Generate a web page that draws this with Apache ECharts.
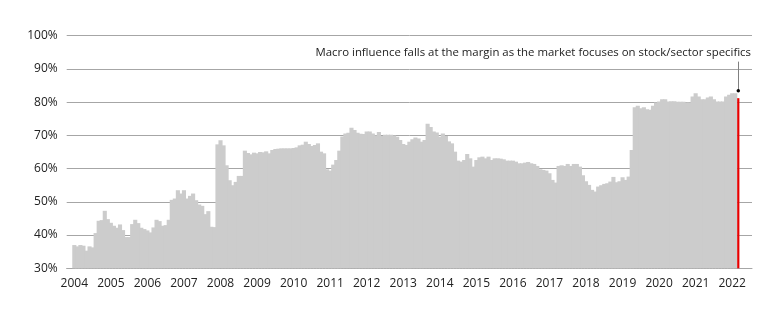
<!DOCTYPE html>
<html>
<head>
<meta charset="utf-8">
<script src="https://cdn.jsdelivr.net/npm/echarts@6/dist/echarts.min.js"></script>
<style>
  html, body { margin: 0; padding: 0; background: #ffffff; }
  #chart { width: 780px; height: 323px; }
</style>
</head>
<body>
<div id="chart"></div>
<script>
// Monthly share (%), January 2004 onward
const share2004 = [37.0, 36.6, 37.0, 36.8, 35.3, 36.6, 36.3, 40.6, 44.3, 44.5, 47.3, 44.8];
const share2005 = [43.7, 42.8, 42.2, 43.2, 41.5, 39.4, 39.4, 43.3, 44.6, 43.6, 42.2, 41.8];
const share2006 = [41.4, 40.8, 42.3, 44.6, 44.2, 42.8, 43.0, 44.6, 50.6, 51.0, 53.5, 52.5];
const share2007 = [53.5, 51.0, 51.8, 52.5, 50.5, 49.2, 48.8, 46.3, 47.2, 42.5, 42.4, 67.3];
const share2008 = [68.5, 67.0, 61.0, 56.5, 55.0, 56.0, 57.8, 57.8, 65.4, 64.7, 64.3, 64.8];
const share2009 = [64.6, 65.0, 64.9, 65.2, 64.6, 65.6, 65.9, 66.0, 66.1, 66.1, 66.1, 66.1];
const share2010 = [66.2, 66.4, 67.0, 67.2, 68.1, 67.4, 66.8, 67.1, 67.6, 65.1, 64.6, 59.8];
const share2011 = [59.4, 61.2, 62.6, 65.4, 69.7, 70.6, 70.8, 72.3, 71.6, 70.8, 70.5, 70.4];
const share2012 = [71.2, 71.2, 70.6, 70.0, 71.0, 69.8, 70.2, 70.2, 70.2, 70.0, 69.6, 68.6];
const share2013 = [67.4, 67.1, 68.1, 68.8, 69.4, 69.1, 68.1, 68.6, 73.5, 72.5, 71.2, 70.9];
const share2014 = [69.6, 70.6, 69.8, 68.2, 67.6, 65.1, 62.4, 62.1, 62.6, 64.4, 63.1, 60.6];
const share2015 = [62.6, 63.4, 63.6, 63.1, 63.6, 62.6, 63.1, 63.1, 63.0, 62.8, 62.4, 62.4];
const share2016 = [62.4, 62.1, 61.6, 61.6, 61.8, 62.0, 61.6, 61.4, 60.8, 59.8, 59.6, 59.4];
const share2017 = [58.6, 56.6, 55.8, 60.8, 61.0, 60.8, 61.4, 60.8, 61.4, 61.4, 60.6, 58.0];
const share2018 = [56.2, 55.1, 53.6, 53.1, 54.6, 55.0, 55.4, 55.6, 56.1, 57.5, 55.9, 56.2];
const share2019 = [57.4, 56.6, 57.6, 65.6, 78.5, 78.9, 78.2, 78.5, 77.9, 77.7, 78.9, 79.9];
const share2020 = [80.2, 80.9, 80.9, 80.2, 80.3, 80.3, 80.1, 80.1, 80.1, 79.9, 79.9, 81.7];
const share2021 = [82.7, 81.7, 80.9, 80.9, 81.4, 81.7, 80.9, 80.2, 80.2, 80.2, 81.7, 82.2];
const share2022 = [82.7, 82.7, 81.2];

const firstYear = 2004;
const noteText = 'Macro influence falls at the margin as the market focuses on stock/sector specifics';

const shares = [].concat(
  share2004, share2005, share2006, share2007, share2008, share2009, share2010,
  share2011, share2012, share2013, share2014, share2015, share2016, share2017,
  share2018, share2019, share2020, share2021, share2022
);

// month keys "YYYY-MM"; empty months on each side give the axis some breathing room
function monthKey(offset) {
  const y = firstYear + Math.floor(offset / 12);
  const m = ((offset % 12) + 12) % 12;
  return y + '-' + String(m + 1).padStart(2, '0');
}
const leadMonths = 2, trailMonths = 4;
const lastIdx = shares.length - 1;
const categories = [];
const historyData = [];   // grey bars
const latestData = [];    // red bar for the most recent month
for (let i = -leadMonths; i < shares.length + trailMonths; i++) {
  categories.push(monthKey(i));
  const inRange = i >= 0 && i < shares.length;
  historyData.push(inRange && i !== lastIdx ? shares[i] : '-');
  latestData.push(i === lastIdx ? shares[i] : '-');
}
const latestMonth = monthKey(lastIdx);

const font = '"Open Sans", "Noto Sans", sans-serif';
const chart = echarts.init(document.getElementById('chart'), null, { renderer: 'canvas' });

const hiddenCategoryAxis = {
  type: 'category',
  data: categories,
  boundaryGap: true,
  show: false
};

chart.setOption({
  animation: false,
  backgroundColor: '#ffffff',
  grid: { left: 66.7, right: 28, top: 35.7, bottom: 54.7, containLabel: false },
  xAxis: [{
    type: 'category',
    data: categories,
    boundaryGap: true,
    axisTick: { show: false },
    axisLine: { lineStyle: { color: '#a6a6a6', width: 1 } },
    axisLabel: {
      interval: (idx, val) => val.endsWith('-01'),
      formatter: val => val.slice(0, 4),
      color: '#222222',
      fontFamily: font,
      fontSize: 12,
      margin: 9
    },
    splitLine: { show: false }
  }, hiddenCategoryAxis],
  yAxis: {
    type: 'value',
    min: 30,
    max: 100,
    interval: 10,
    axisLine: { show: false },
    axisTick: { show: false },
    axisLabel: {
      formatter: '{value}%',
      color: '#222222',
      fontFamily: font,
      fontSize: 12,
      margin: 9
    },
    splitLine: { lineStyle: { color: '#a6a6a6', width: 1 } }
  },
  series: [{
    type: 'bar',
    xAxisIndex: 0,
    data: historyData,
    barCategoryGap: '-35%',
    itemStyle: { color: '#cccccc' },
    silent: true
  }, {
    type: 'bar',
    xAxisIndex: 1,
    data: latestData,
    barWidth: 2.2,
    itemStyle: { color: '#e60000' },
    silent: true,
    markLine: {
      silent: true,
      symbol: ['none', 'none'],
      lineStyle: { color: '#808080', width: 1, type: 'solid' },
      label: { show: false },
      data: [[{ coord: [latestMonth, 83.4] }, { coord: [latestMonth, 92.2] }]]
    },
    markPoint: {
      silent: true,
      symbol: 'circle',
      symbolSize: 3.5,
      itemStyle: { color: '#000000' },
      label: { show: false },
      data: [{ coord: [latestMonth, 83.4] }]
    }
  }],
  graphic: [{
    type: 'text',
    right: 29,
    top: 47,
    style: {
      text: noteText,
      fill: '#222222',
      font: '11.4px ' + font
    }
  }]
});
</script>
</body>
</html>
